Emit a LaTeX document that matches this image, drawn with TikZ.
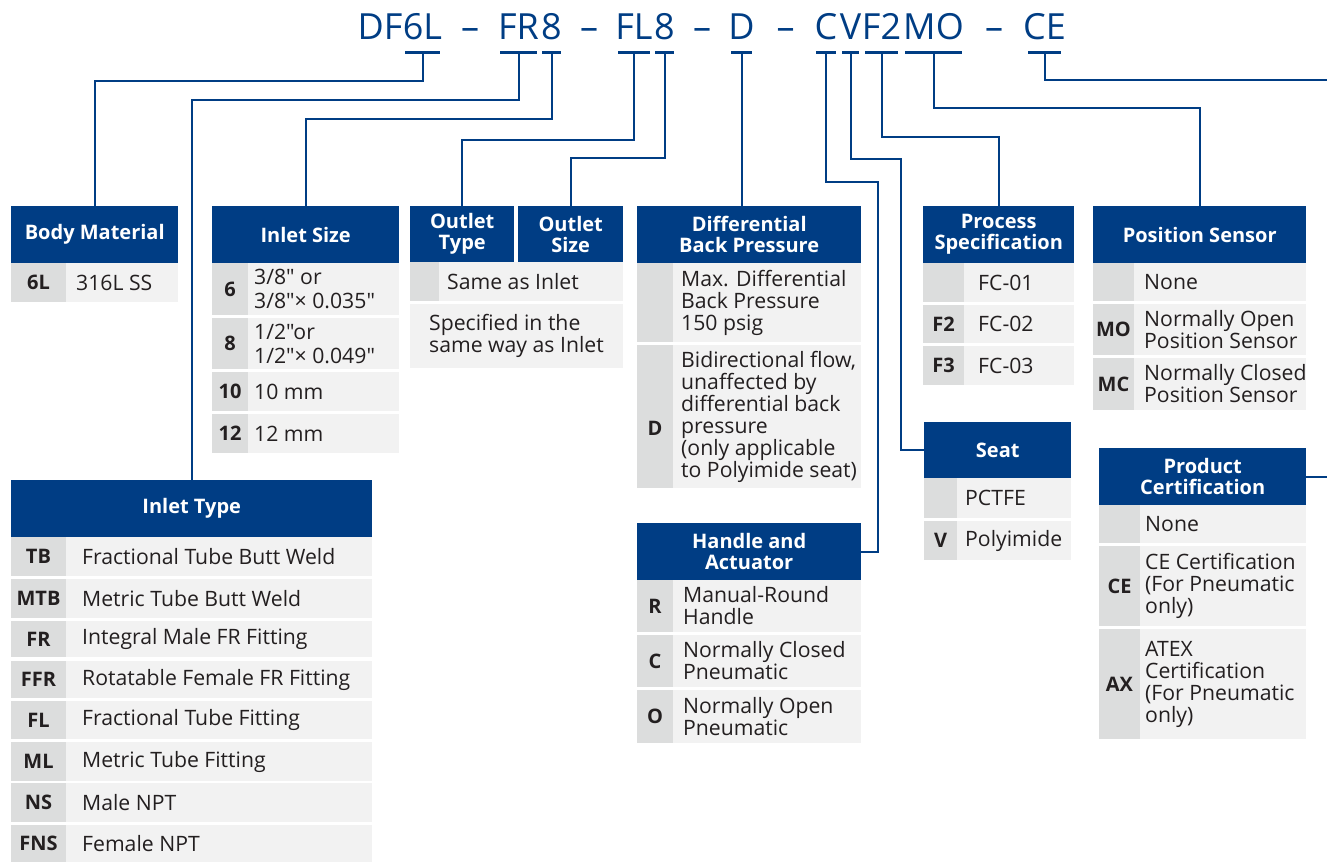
\documentclass[tikz,border=0pt]{standalone}
\usepackage{fontspec}
\setmainfont{Open Sans}[Ligatures=TeXOff]
\usetikzlibrary{positioning,calc}
\definecolor{navy}{HTML}{003D84}
\definecolor{codegray}{HTML}{DCDDDD}
\definecolor{rowgray}{HTML}{F2F2F2}
\definecolor{ink}{HTML}{231F20}

\begin{document}
\begin{tikzpicture}[x=1pt,y=-1pt,
    ttl/.style={font=\fontsize{36}{40}\selectfont, text=navy, inner sep=0pt, anchor=base},
    codebar/.style={fill=navy, inner sep=0pt, minimum height=3pt},
    leader/.style={draw=navy, line width=2pt},
    hdr/.style={fill=navy, text=white, font=\fontsize{20}{21}\selectfont\bfseries, align=center, inner sep=0pt, anchor=north west},
    codetxt/.style={text=ink, font=\fontsize{20}{22}\selectfont\bfseries, inner sep=0pt},
    desc/.style={text=ink, font=\fontsize{21.2}{22}\selectfont, align=left, anchor=west, inner sep=0pt}]
    \useasboundingbox (0,0) rectangle (1327,862);

    % ordering code
    \node[ttl] (t6L) at (422.5,39) {6L};
    \node[ttl, anchor=base east] (tDF) at (t6L.base west) {DF};
    \node[ttl] (tFR) at (518.5,39) {FR};
    \node[ttl] (t8a) at (551.5,39) {8};
    \node[ttl] (tFL) at (634,39) {FL};
    \node[ttl] (t8b) at (664.5,39) {8};
    \node[ttl] (tD) at (741.5,39) {D};
    \node[ttl] (tC) at (826,39) {C};
    \node[ttl] (tV) at (850.5,39) {V};
    \node[ttl] (tF2) at (881.5,39) {F2};
    \node[ttl] (tMO) at (933.5,39) {MO};
    \node[ttl] (tCE) at (1044.5,39) {CE};
    \foreach \x/\n in {470/1,589/2,702/3,785.5/4,994/5}
      \node[ttl] (dash\n) at (\x,39) {–};

    \node[codebar, minimum width=35pt] (k6L) at (422.5,52) {};
    \node[codebar, minimum width=37pt] (kFR) at (518.5,52) {};
    \node[codebar, minimum width=19pt] (k8a) at (551.5,52) {};
    \node[codebar, minimum width=32pt] (kFL) at (634,52) {};
    \node[codebar, minimum width=19pt] (k8b) at (664.5,52) {};
    \node[codebar, minimum width=21pt] (kD) at (741.5,52) {};
    \node[codebar, minimum width=20pt] (kC) at (826,52) {};
    \node[codebar, minimum width=17pt] (kV) at (850.5,52) {};
    \node[codebar, minimum width=33pt] (kF2) at (881.5,52) {};
    \node[codebar, minimum width=57pt] (kMO) at (933.5,52) {};
    \node[codebar, minimum width=33pt] (kCE) at (1044.5,52) {};

    % headers
    \node[hdr, minimum width=167pt, minimum height=57pt] (hbody) at (11,206) {Body Material};
    \node[hdr, minimum width=187pt, minimum height=57pt] (hisize) at (212,206) {Inlet Size};
    \node[hdr, minimum width=104pt, minimum height=56pt] (hotype) at (410,206) {Outlet\\Type};
    \node[hdr, minimum width=105pt, minimum height=56pt] (hosize) at (518,206) {Outlet\\Size};
    \node[hdr, minimum width=224pt, minimum height=57pt] (hdiff) at (637,206) {Differential\\Back Pressure};
    \node[hdr, minimum width=151pt, minimum height=57pt] (hproc) at (923,206) {Process\\Specification};
    \node[hdr, minimum width=213pt, minimum height=57pt] (hpos) at (1093,206) {Position Sensor};
    \node[hdr, minimum width=361pt, minimum height=57pt] (htype) at (11,480) {Inlet Type};
    \node[hdr, minimum width=224pt, minimum height=57pt] (hact) at (637,523) {Handle and\\Actuator};
    \node[hdr, minimum width=147pt, minimum height=56pt] (hseat) at (924,422) {Seat};
    \node[hdr, minimum width=207pt, minimum height=57pt] (hcert) at (1099,448) {Product\\Certification};

    % leaders
    \draw[leader] (k6L.south) -- ++(0,27) -| (hbody.north);
    \draw[leader] (kFR.south) -- ++(0,46) -| (htype.north);
    \draw[leader] (k8a.south) -- ++(0,65) -| (hisize.north);
    \draw[leader] (kFL.south) -- ++(0,86) -| (hotype.north);
    \draw[leader] (k8b.south) -- ++(0,104) -| (hosize.north);
    \draw[leader] (kD.south) -- (kD.south |- hdiff.north);
    \draw[leader] (kC.south) |- (878,182) |- (hact.east);
    \draw[leader] (kV.south) |- (901,159) |- (hseat.west);
    \draw[leader] (kF2.south) -- ++(0,83) -| (hproc.north);
    \draw[leader] (kMO.south) -- ++(0,54) -| (hpos.north);
    \draw[leader] (kCE.south) |- (1345,80) |- (hcert.east);

    % body material
    \foreach \ya/\yb/\cd/\tx in {263/302/6L/316L SS} {
      \fill[codegray] (11,\ya) rectangle (66,\yb);
      \fill[rowgray] (66,\ya) rectangle (178,\yb);
      \node[codetxt] at (38.5,{(\ya+\yb)/2}) {\cd};
      \node[desc] at (76,{(\ya+\yb)/2}) {\tx};
    }

    % inlet size
    \foreach \ya/\yb/\cd/\tx in {263/315/6/{3/8" or\\[2pt]3/8"× 0.035"},
        318/369/8/{1/2"or\\[2pt]1/2"× 0.049"}, 372/411/10/{10 mm}, 414/453/12/{12 mm}} {
      \fill[codegray] (212,\ya) rectangle (248,\yb);
      \fill[rowgray] (248,\ya) rectangle (399,\yb);
      \node[codetxt] at (230,{(\ya+\yb)/2}) {\cd};
      \node[desc] at (254,{(\ya+\yb)/2}) {\tx};
    }

    % inlet type
    \foreach \ya/\yb/\cd/\tx in {537/576/TB/{Fractional Tube Butt Weld},
        579/618/MTB/{Metric Tube Butt Weld}, 621/657/FR/{Integral Male FR Fitting},
        661/698/FFR/{Rotatable Female FR Fitting}, 701/739/FL/{Fractional Tube Fitting},
        742/781/ML/{Metric Tube Fitting}, 783/822/NS/{Male NPT}, 825/862/FNS/{Female NPT}} {
      \fill[codegray] (11,\ya) rectangle (66,\yb);
      \fill[rowgray] (66,\ya) rectangle (372,\yb);
      \node[codetxt] at (38.5,{(\ya+\yb)/2}) {\cd};
      \node[desc] at (82,{(\ya+\yb)/2}) {\tx};
    }

    % outlet type and size
    \fill[codegray] (410,262) rectangle (439,301);
    \fill[rowgray] (439,262) rectangle (623,301);
    \node[desc] (osame) at (447,281.5) {Same as Inlet};
    \fill[rowgray] (410,304) rectangle (623,368);
    \node[desc] (ospec) at (429,336) {Specified in the\\same way as Inlet};

    % differential back pressure
    \fill[codegray] (637,263) rectangle (673,342);
    \fill[rowgray] (673,263) rectangle (861,342);
    \node[desc] (dmax) at (681,302.5) {Max. Differential\\Back Pressure\\150 psig};
    \fill[codegray] (637,345) rectangle (673,488);
    \fill[rowgray] (673,345) rectangle (861,488);
    \node[codetxt] (dD) at (655,428) {D};
    \node[desc] (dbi) at (681,416.5) {Bidirectional flow,\\unaffected by\\differential back\\pressure\\(only applicable\\to Polyimide seat)};

    % handle and actuator
    \foreach \ya/\yb/\cd/\tx in {580/632/R/{Manual-Round\\Handle},
        635/687/C/{Normally Closed\\Pneumatic}, 690/743/O/{Normally Open\\Pneumatic}} {
      \fill[codegray] (637,\ya) rectangle (673,\yb);
      \fill[rowgray] (673,\ya) rectangle (861,\yb);
      \node[codetxt] at (655,{(\ya+\yb)/2}) {\cd};
      \node[desc] at (683,{(\ya+\yb)/2}) {\tx};
    }

    % process specification
    \foreach \ya/\yb/\cd/\tx in {263/302//FC-01, 305/343/F2/FC-02, 346/385/F3/FC-03} {
      \fill[codegray] (923,\ya) rectangle (964,\yb);
      \fill[rowgray] (964,\ya) rectangle (1074,\yb);
      \node[codetxt] at (943.5,{(\ya+\yb)/2}) {\cd};
      \node[desc] at (978,{(\ya+\yb)/2}) {\tx};
    }

    % position sensor
    \foreach \ya/\yb/\cd/\tx in {263/301//None,
        304/355/MO/{Normally Open\\Position Sensor}, 358/410/MC/{Normally Closed\\Position Sensor}} {
      \fill[codegray] (1093,\ya) rectangle (1134,\yb);
      \fill[rowgray] (1134,\ya) rectangle (1306,\yb);
      \node[codetxt] at (1113.5,{(\ya+\yb)/2}) {\cd};
      \node[desc] at (1144,{(\ya+\yb)/2}) {\tx};
    }

    % seat
    \foreach \ya/\yb/\cd/\tx in {478/518//PCTFE, 521/560/V/Polyimide} {
      \fill[codegray] (924,\ya) rectangle (957,\yb);
      \fill[rowgray] (957,\ya) rectangle (1071,\yb);
      \node[codetxt] at (940.5,{(\ya+\yb)/2}) {\cd};
      \node[desc] at (965,{(\ya+\yb)/2}) {\tx};
    }

    % product certification
    \foreach \ya/\yb/\cd/\tx in {505/543//None,
        546/626/CE/{CE Certification\\(For Pneumatic\\only)},
        629/739/AX/{ATEX\\Certification\\(For Pneumatic\\only)}} {
      \fill[codegray] (1099,\ya) rectangle (1140,\yb);
      \fill[rowgray] (1140,\ya) rectangle (1306,\yb);
      \node[codetxt] at (1119.5,{(\ya+\yb)/2}) {\cd};
      \node[desc] at (1145,{(\ya+\yb)/2}) {\tx};
    }
  \end{tikzpicture}
\end{document}
